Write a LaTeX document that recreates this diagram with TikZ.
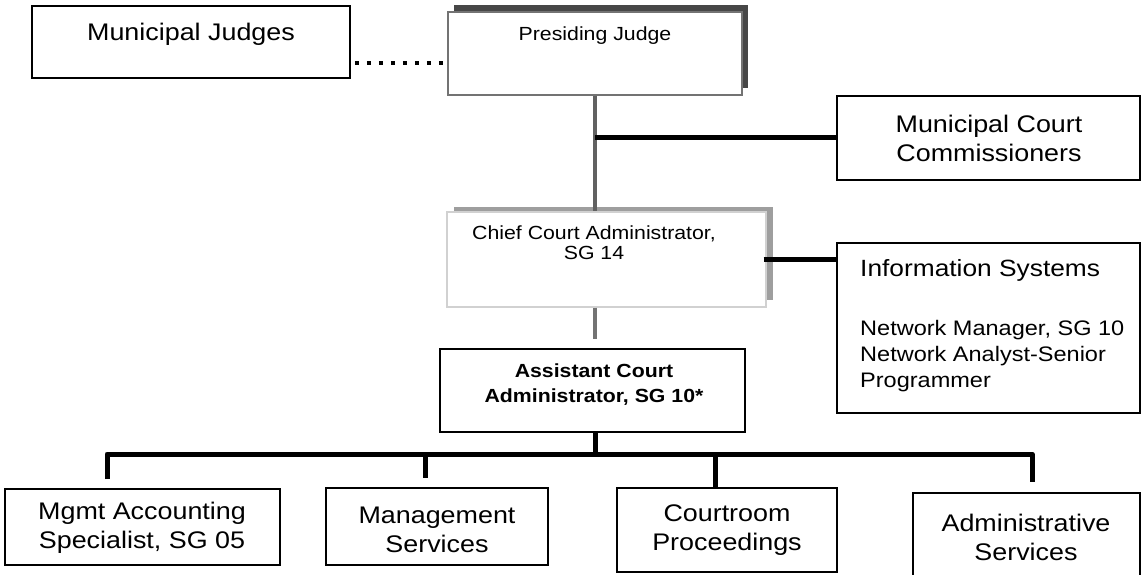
\documentclass[tikz,border=0pt]{standalone}
\usepackage{fontspec}
\setmainfont{Liberation Sans}[FakeStretch=1.12]
\usetikzlibrary{fit}
\begin{document}
\begin{tikzpicture}[x=1pt,y=-1pt,
  box/.style={draw=black, line width=1.8pt, fill=white, inner sep=0pt},
  conn/.style={line width=5pt, draw=black},
  grayline/.style={line width=4.5pt, draw=black!62},
  dotline/.style={line width=4.5pt, dash pattern=on 4.5pt off 7.5pt, draw=black},
  bigtxt/.style={font=\fontsize{24}{29}\selectfont, align=center, inner sep=0pt},
  smalltxt/.style={font=\fontsize{19}{20}\selectfont, align=center, inner sep=0pt},
  boldtxt/.style={font=\bfseries\fontsize{19}{25}\selectfont, align=center, inner sep=0pt},
]
\useasboundingbox (0,0) rectangle (1144,575);
\clip (0,0) rectangle (1144,575);
\fill[white] (0,0) rectangle (1144,575);

% shadows
\fill[black!72] (454,5) rectangle (748,88);
\fill[black!38] (454,207) rectangle (773,300);

% boxes
\node[box, fit={(32,6)(350,78)}] (mj) {};
\node[box, draw=black!55, line width=1.5pt, fit={(448,12)(742,95)}] (pj) {};
\node[box, fit={(837,96)(1140,180)}] (mcc) {};
\node[box, draw=black!18, line width=1.2pt, fit={(447,212)(766,307)}] (chief) {};
\node[box, fit={(837,243)(1140,413)}] (info) {};
\node[box, fit={(440,349)(745,432)}] (asst) {};
\node[box, fit={(5,489)(280,565)}] (mas) {};
\node[box, fit={(326,488)(548,565)}] (ms) {};
\node[box, fit={(617,488)(837,572)}] (crt) {};
\node[box, fit={(913,493)(1140,600)}] (adm) {};

% texts
\node[bigtxt] (mjt) at (191,34) {Municipal Judges};
\node[smalltxt] (pjt) at (595,36) {Presiding Judge};
\node[bigtxt] (mcct) at (989,138) {Municipal Court\\Commissioners};
\node[smalltxt] (chieft) at (594,243) {Chief Court Administrator,\\SG 14};
\node[anchor=west, inner sep=0pt, font=\fontsize{23.5}{26}\selectfont] (infot) at (860,270) {Information Systems};
\node[anchor=west, inner sep=0pt, align=left, font=\fontsize{21}{26}\selectfont] (infon) at (860,356) {Network Manager, SG 10\\Network Analyst-Senior\\Programmer};
\node[boldtxt] (asstt) at (594,385) {Assistant Court\\Administrator, SG 10*};
\node[bigtxt] (mast) at (142,528) {Mgmt Accounting\\Specialist, SG 05};
\node[bigtxt] (mst) at (437,530) {Management\\Services};
\node[bigtxt] (crtt) at (727,530) {Courtroom\\Proceedings};
\node[bigtxt] (admt) at (1026,537) {Administrative\\Services};

% connectors
\draw[dotline, shorten <=4pt] ([yshift=-21pt]mj.east) -- ([yshift=-21pt]mj.east -| pj.west);
\draw[grayline] (pj.south) -- (pj.south |- chief.north);
\draw[conn] (pj.south |- mcc.west) -- (mcc.west);
\draw[conn] ([xshift=-3pt]chief.east) -- (chief.east -| info.west);
\draw[grayline, draw=black!55, line width=4pt, shorten >=9pt] (pj.south |- chief.south) -- (pj.south |- asst.north);

\coordinate (bl) at (107,454);
\coordinate (br) at (1032,454);
\coordinate (d2) at (425,454);
\coordinate (d3) at (715,454);
\draw[conn] (asst.south -| pj.south) -- (bl -| pj.south);
\draw[conn, line join=round, shorten <=9pt, shorten >=10pt] (bl |- mas.north) -- (bl) -- (br) -- (br |- adm.north);
\draw[conn, shorten >=9pt] (d2) -- (d2 |- ms.north);
\draw[conn] (d3) -- (d3 |- crt.north);
\end{tikzpicture}
\end{document}
